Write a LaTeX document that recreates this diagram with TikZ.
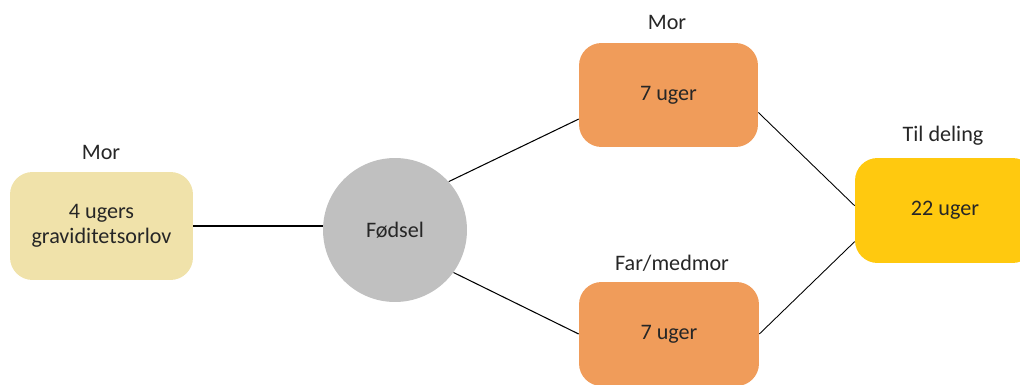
\documentclass[tikz,border=0pt]{standalone}
\usepackage{fontspec}
\setmainfont{Carlito}
\usepackage{tikz}
\usetikzlibrary{shapes}
\definecolor{tanfill}{HTML}{F0E2AA}
\definecolor{greyfill}{HTML}{C0C0C0}
\definecolor{orangefill}{HTML}{F09C5A}
\definecolor{yellowfill}{HTML}{FFC90F}
\definecolor{textgrey}{HTML}{262626}

\begin{document}
\begin{tikzpicture}[x=0.02cm,y=-0.02cm,font=\fontsize{12.6}{14}\selectfont,text=textgrey,
  box/.style={rectangle,rounded corners=0.45cm,align=center,inner sep=0pt},
  head/.style={inner sep=0pt}]
\clip (0,0) rectangle (1020,385);
\node at (101.5,226) [box,fill=tanfill,minimum width=3.66cm,minimum height=2.16cm] (Node1) {4 ugers\\graviditetsorlov};
\node at (395,230) [circle,fill=greyfill,minimum size=2.88cm,inner sep=0pt] (Node2) {Fødsel};
\node at (668.5,95) [box,fill=orangefill,minimum width=3.58cm,minimum height=2.08cm] (Node3) {7 uger};
\node at (669,334) [box,fill=orangefill,minimum width=3.6cm,minimum height=2.08cm] (Node4) {7 uger};
\node at (945,210.5) [box,fill=yellowfill,minimum width=3.6cm,minimum height=2.1cm] (Node5) {22 uger};
\node [head] at (101,152) (Label1) {Mor};
\node [head] at (667,22) (Label3) {Mor};
\node [head] at (672,263) (Label4) {Far/medmor};
\node [head] at (943,136) (Label5) {Til deling};
\draw [line width=0.6pt] (Node1.east) -- (Node1.east -| Node2.west);
\draw [line width=0.6pt] (Node2.42) -- (Node3.195);
\draw [line width=0.6pt] (Node2.-36) -- (Node4.west);
\draw [line width=0.5pt] (Node3.-11) -- (Node5.177);
\draw [line width=0.5pt] (Node4.east) -- (Node5.199);
\end{tikzpicture}
\end{document}
